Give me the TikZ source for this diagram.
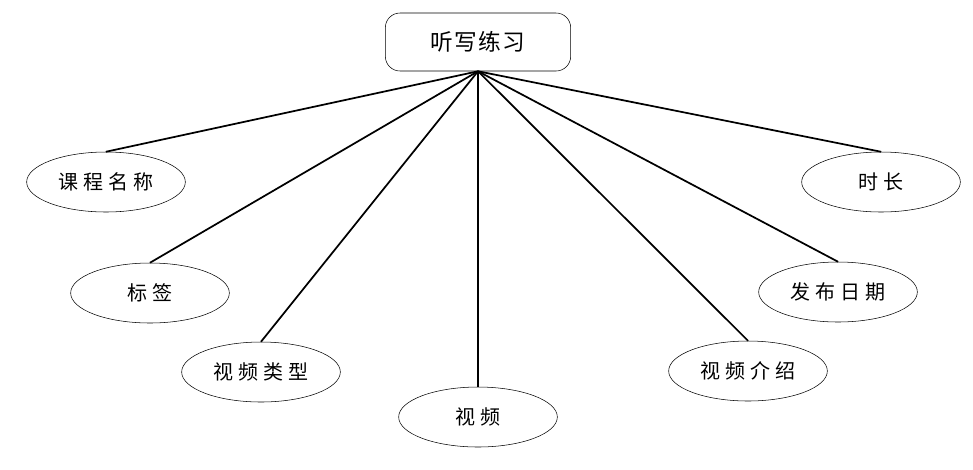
\documentclass[tikz,border=0pt]{standalone}
\usepackage{fontspec}
\usetikzlibrary{shapes.geometric}
\newfontfamily\cjk[LetterSpace=6]{Noto Sans CJK SC}
\newfontfamily\cjkwide[LetterSpace=25]{Noto Sans CJK SC}
\newcommand{\attrnode}[4]{\node[attr] (#1) at (#2,#3) {#4};
        \draw[link] (title.south) -- (#1.north);
    }

\begin{document}
\begin{tikzpicture}
                [
                x=0.75pt, y=-0.75pt,
                entity/.style={rectangle,draw=black,thin,rounded corners=11pt,minimum width=139pt,minimum height=43.5pt,font=\cjk\fontsize{17}{17}\selectfont},
                attr/.style={ellipse,draw=black,thin,minimum width=119pt,minimum height=45pt,inner sep=0pt,font=\cjkwide\fontsize{15}{15}\selectfont},
                link/.style={line width=1.3pt},
                ]
                \useasboundingbox (0,0) rectangle (973,469);
                \node[entity] (title) at (478,42) {听写练习};
                \attrnode{kcmc}{106}{182}{课程名称}
                \attrnode{bq}{150}{293}{标签}
                \attrnode{splx}{261}{372}{视频类型}
                \attrnode{sp}{478}{417}{视频}
                \attrnode{spjs}{748}{371}{视频介绍}
                \attrnode{fbrq}{838}{292}{发布日期}
                \attrnode{sc}{881}{182}{时长}
            \end{tikzpicture}
\end{document}
